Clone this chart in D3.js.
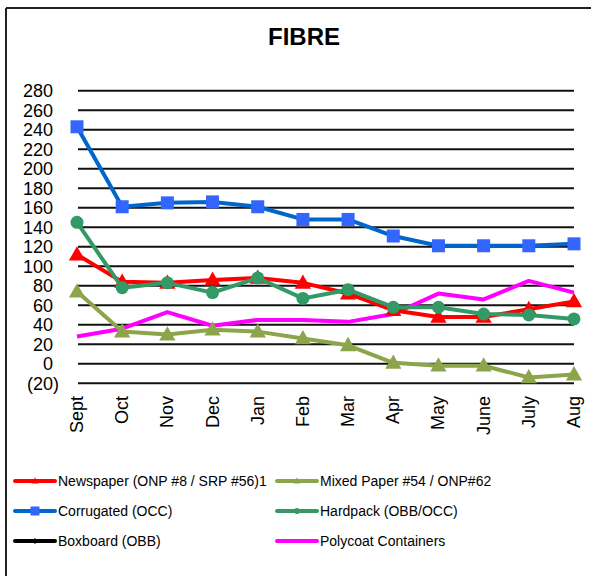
<!DOCTYPE html>
<html><head><meta charset="utf-8">
<script src="https://cdn.jsdelivr.net/npm/d3@7"></script>
<style>body{margin:0;background:#fff}svg{display:block;font-family:"Liberation Sans",Arial,sans-serif}</style>
</head><body>
<script>
const months = ["Sept","Oct","Nov","Dec","Jan","Feb","Mar","Apr","May","June","July","Aug"];
const yTicks = [-20,0,20,40,60,80,100,120,140,160,180,200,220,240,260,280];
const newspaper = [112,84,83,86,88,83,72,55,48,48,56,64];
const mixedPaper = [74,33,30,35,33,26,19,1,-2,-2,-14,-11];
const corrugated = [243,161,165,166,161,148,148,131,121,121,121,123];
const hardpack = [145,78,83,73,88,67,76,58,58,51,50,46];
const boxboard = [];
const polycoat = [28,36,53,39,45,45,43,51,72,66,85,73];
const seriesNames = ["Newspaper (ONP #8 / SRP #56)1","Mixed Paper #54 / ONP#62","Corrugated (OCC)","Hardpack (OBB/OCC)","Boxboard (OBB)","Polycoat Containers"];

const W=591,H=576;
const svg=d3.select("body").append("svg").attr("width",W).attr("height",H);
// frame
svg.append("line").attr("x1",6).attr("x2",W).attr("y1",8).attr("y2",8).attr("stroke","#222").attr("stroke-width",2);
svg.append("line").attr("x1",6).attr("x2",6).attr("y1",8).attr("y2",H).attr("stroke","#222").attr("stroke-width",2);

svg.append("text").attr("x",304).attr("y",45).attr("text-anchor","middle").attr("font-size",24).attr("font-weight","bold").text("FIBRE");

const x=d3.scalePoint().domain(months).range([77,574]);
const y=d3.scaleLinear().domain([-20,280]).range([383.3,90.7]);

// grid
svg.append("g").selectAll("line").data(yTicks).join("line")
 .attr("x1",78).attr("x2",574).attr("y1",d=>y(d)).attr("y2",d=>y(d))
 .attr("stroke","#111").attr("stroke-width",2);

const fmt=d=>d<0?"("+Math.abs(d)+")":String(d);
svg.append("g").selectAll("text").data(yTicks).join("text")
 .attr("x",d=>d<0?59:53).attr("y",d=>y(d)).attr("dy","0.35em")
 .attr("text-anchor","end").attr("font-size",18).text(fmt);

svg.append("g").selectAll("text").data(months).join("text")
 .attr("transform",d=>`translate(${x(d)+6},396) rotate(-90)`)
 .attr("text-anchor","end").attr("font-size",18).text(d=>d);

const series=[
 {name:seriesNames[0],vals:newspaper,line:"#FF0000",mk:"#FF0000",shape:"tri"},
 {name:seriesNames[1],vals:mixedPaper,line:"#8CA54A",mk:"#8CA54A",shape:"tri"},
 {name:seriesNames[2],vals:corrugated,line:"#0066CC",mk:"#3366FF",shape:"sq"},
 {name:seriesNames[3],vals:hardpack,line:"#339966",mk:"#339966",shape:"circ"},
 {name:seriesNames[4],vals:boxboard,line:"#000000",mk:"#000000",shape:"dia"},
 {name:seriesNames[5],vals:polycoat,line:"#FF00FF",mk:"#FF00FF",shape:"none"}
];
const drawOrder=[5,1,2,0,3,4];
const line=d3.line().x((d,i)=>x(months[i])).y(d=>y(d));
function marker(g,shape,color,cx,cy,s){
  if(shape==="sq") g.append("rect").attr("x",cx-s/2).attr("y",cy-s/2).attr("width",s).attr("height",s).attr("fill",color);
  else if(shape==="circ") g.append("circle").attr("cx",cx).attr("cy",cy).attr("r",s/2).attr("fill",color);
  else if(shape==="tri") g.append("path").attr("d",`M${cx},${cy-s*0.6}L${cx+s*0.58},${cy+s*0.42}L${cx-s*0.58},${cy+s*0.42}Z`).attr("fill",color);
  else if(shape==="dia") g.append("path").attr("d",`M${cx},${cy-s/2}L${cx+s/2},${cy}L${cx},${cy+s/2}L${cx-s/2},${cy}Z`).attr("fill",color);
}
const sizes={sq:13,circ:13,tri:14,dia:8};
drawOrder.forEach(k=>{
  const s=series[k];
  if(!s.vals.length) return;
  const g=svg.append("g");
  g.append("path").attr("d",line(s.vals)).attr("fill","none").attr("stroke",s.line).attr("stroke-width",4).attr("stroke-linejoin","round");
  s.vals.forEach((v,i)=>marker(g,s.shape,s.mk,x(months[i]),y(v),sizes[s.shape]));
});

// legend
const lg=svg.append("g");
series.forEach((s,i)=>{
  const col=i%2, row=Math.floor(i/2);
  const lx=col?277:15, ly=481+row*30;
  lg.append("line").attr("x1",lx).attr("x2",lx+40).attr("y1",ly).attr("y2",ly).attr("stroke",s.line).attr("stroke-width",4).attr("stroke-linecap","round");
  marker(lg,s.shape,s.mk,lx+20,ly,s.shape==="sq"?9:6);
  lg.append("text").attr("x",lx+43).attr("y",ly).attr("dy","0.35em").attr("font-size",14).text(s.name);
});
</script>
</body></html>
